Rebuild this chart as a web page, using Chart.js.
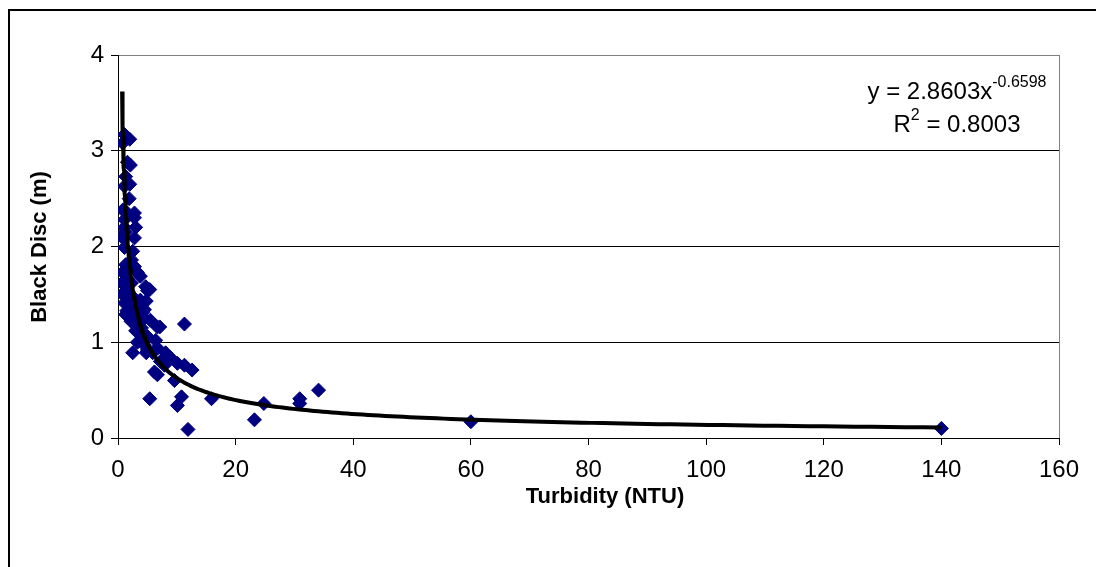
<!DOCTYPE html>
<html>
<head>
<meta charset="utf-8">
<script src="https://cdn.jsdelivr.net/npm/chart.js@4.4.1/dist/chart.umd.min.js"></script>
<style>
  html, body { margin: 0; padding: 0; background: #fff; }
  #wrap { width: 1096px; height: 567px; }
</style>
</head>
<body>
<div id="wrap"><canvas id="c" width="1096" height="567"></canvas></div>
<script>
// Turbidity (NTU) readings
const turbidity = [
  1.1, 0.8, 2.0, 1.6, 2.1, 1.3, 1.1, 2.0, 0.8, 2.8, 1.6,
  1.1, 2.8, 1.1, 3.0, 0.8, 2.8, 1.1, 2.5, 1.3, 2.8, 0.8, 1.6, 3.3, 3.8,
  0.7, 1.3, 4.7, 5.4, 0.8, 2.0, 3.8, 1.1, 2.5, 4.5, 1.3, 3.3, 5.5,
  5.0, 4.8, 3.9, 4.2,
  2.1, 3.8, 2.5, 4.5, 3.3, 6.7, 3.8, 5.0, 6.4, 3.3, 4.5, 6.7, 5.0, 5.9,
  2.5, 8.1, 8.9, 10.1, 11.3, 12.6, 7.2, 7.9, 6.2, 6.7, 9.6, 11.3, 7.1, 4.8,
  1.6, 2.3, 1.0, 1.8, 2.9, 1.5, 2.2, 3.0, 4.0, 1.9, 1.2, 2.3,
  5.4, 10.1, 10.8, 11.9, 15.9, 23.2, 24.8, 30.9, 30.9, 34.1, 60, 140
];
// Black disc visibility (m) for each reading
const blackDisc = [
  3.17, 3.08, 3.12, 2.88, 2.85, 2.73, 2.63, 2.65, 2.38, 2.35, 2.35,
  2.28, 2.30, 2.20, 2.20, 2.09, 2.09, 1.99, 1.95, 1.81, 1.79, 1.73, 1.74, 1.73, 1.69,
  1.62, 1.58, 1.58, 1.55, 1.50, 1.50, 1.44, 1.41, 1.37, 1.34, 1.29, 1.29, 1.23,
  1.54, 1.43, 1.37, 1.31,
  1.37, 1.39, 1.27, 1.25, 1.20, 1.16, 1.08, 1.06, 1.02, 1.00, 0.97, 0.94, 0.92, 0.89,
  0.89, 0.89, 0.84, 0.78, 0.76, 0.71, 0.80, 0.76, 0.69, 0.66, 0.60, 1.19, 1.16, 0.89,
  1.66, 1.62, 1.52, 1.43, 1.45, 1.33, 1.22, 1.12, 1.15, 2.50, 2.15, 1.86,
  0.41, 0.34, 0.43, 0.09, 0.41, 0.19, 0.36, 0.41, 0.36, 0.50, 0.17, 0.10
];

// Power trendline y = a * x^b, as printed in the label
const trendA = 2.8603;
const trendB = -0.6598;
const trendR2 = 0.8003;
const trendFrom = 0.7;
const trendTo = 140;

// Axis tick labels and titles
const xTicks = [0, 20, 40, 60, 80, 100, 120, 140, 160];
const yTicks = [0, 1, 2, 3, 4];
const xTitle = 'Turbidity (NTU)';
const yTitle = 'Black Disc (m)';

const points = turbidity.map((x, i) => ({ x: x, y: blackDisc[i] }));

const trendPts = [];
const nTrend = 240;
for (let i = 0; i <= nTrend; i++) {
  const x = trendFrom * Math.pow(trendTo / trendFrom, i / nTrend);
  trendPts.push({ x: x, y: trendA * Math.pow(x, trendB) });
}

const FONT = '"Liberation Sans", Arial, sans-serif';

// Outer frame of the chart object and the plot-area right edge
const framePlugin = {
  id: 'frame',
  beforeDraw(chart) {
    const ctx = chart.ctx;
    ctx.save();
    ctx.fillStyle = '#fff';
    ctx.fillRect(0, 0, chart.width, chart.height);
    ctx.fillStyle = '#000';
    ctx.fillRect(8, 9, 2, chart.height);
    ctx.fillRect(8, 9, chart.width, 2);
    ctx.restore();
  },
  afterDatasetsDraw(chart) {
    const { ctx, chartArea } = chart;
    ctx.save();
    ctx.strokeStyle = '#808080';
    ctx.lineWidth = 1;
    ctx.beginPath();
    const r = Math.round(chartArea.right) + 0.5;
    ctx.moveTo(r, Math.round(chartArea.top));
    ctx.lineTo(r, Math.round(chartArea.bottom));
    ctx.stroke();
    ctx.restore();
  }
};

// Axis titles
const titlesPlugin = {
  id: 'axisTitles',
  afterDraw(chart) {
    const ctx = chart.ctx;
    ctx.save();
    ctx.fillStyle = '#000';
    ctx.font = 'bold 22px ' + FONT;
    ctx.textAlign = 'center';
    ctx.textBaseline = 'middle';
    ctx.fillText(xTitle, 605, 497);
    ctx.translate(40, 247);
    ctx.rotate(-Math.PI / 2);
    ctx.fillText(yTitle, 0, 0);
    ctx.restore();
  }
};

// Trendline equation and R-squared label
const equationPlugin = {
  id: 'equation',
  afterDraw(chart) {
    const ctx = chart.ctx;
    const cx = 957;
    const big = '24px ' + FONT;
    const small = '16px ' + FONT;
    ctx.save();
    ctx.fillStyle = '#000';
    ctx.textBaseline = 'alphabetic';
    ctx.textAlign = 'left';

    const l1a = 'y = ' + trendA.toFixed(4) + 'x';
    const l1b = trendB.toFixed(4);
    ctx.font = big; const w1a = ctx.measureText(l1a).width;
    ctx.font = small; const w1b = ctx.measureText(l1b).width;
    let x = cx - (w1a + w1b) / 2;
    const base1 = 99;
    ctx.font = big; ctx.fillText(l1a, x, base1);
    ctx.font = small; ctx.fillText(l1b, x + w1a, base1 - 12);

    const l2a = 'R';
    const l2b = '2';
    const l2c = ' = ' + trendR2.toFixed(4);
    ctx.font = big; const w2a = ctx.measureText(l2a).width; const w2c = ctx.measureText(l2c).width;
    ctx.font = small; const w2b = ctx.measureText(l2b).width;
    x = cx - (w2a + w2b + w2c) / 2;
    const base2 = 132;
    ctx.font = big; ctx.fillText(l2a, x, base2);
    ctx.font = small; ctx.fillText(l2b, x + w2a, base2 - 12);
    ctx.font = big; ctx.fillText(l2c, x + w2a + w2b, base2);
    ctx.restore();
  }
};

new Chart(document.getElementById('c'), {
  type: 'scatter',
  data: {
    datasets: [
      {
        label: 'Black Disc',
        data: points,
        pointStyle: 'rectRot',
        pointRadius: 7,
        pointHoverRadius: 7,
        backgroundColor: '#000080',
        borderColor: '#000080',
        borderWidth: 1,
        order: 2
      },
      {
        label: 'Power trend',
        data: trendPts,
        showLine: true,
        pointRadius: 0,
        pointHoverRadius: 0,
        borderColor: '#000',
        borderWidth: 4,
        tension: 0,
        fill: false,
        order: 1
      }
    ]
  },
  options: {
    responsive: false,
    animation: false,
    devicePixelRatio: 1,
    layout: { padding: { top: 55, right: 37, left: 0, bottom: 0 } },
    plugins: {
      legend: { display: false },
      tooltip: { enabled: false }
    },
    scales: {
      x: {
        type: 'linear',
        min: xTicks[0],
        max: xTicks[xTicks.length - 1],
        afterBuildTicks(scale) { scale.ticks = xTicks.map(v => ({ value: v })); },
        afterFit(scale) { scale.height = 129; },
        ticks: {
          color: '#000',
          font: { family: FONT, size: 24 },
          padding: 11,
          maxRotation: 0
        },
        grid: {
          drawOnChartArea: false,
          drawTicks: true,
          tickLength: 7,
          tickColor: '#000',
          color: '#000'
        },
        border: { display: true, color: '#000', width: 1 },
        title: { display: false }
      },
      y: {
        type: 'linear',
        min: yTicks[0],
        max: yTicks[yTicks.length - 1],
        afterBuildTicks(scale) { scale.ticks = yTicks.map(v => ({ value: v })); },
        afterFit(scale) { scale.width = 118; },
        ticks: {
          color: '#000',
          font: { family: FONT, size: 24 },
          padding: 7
        },
        grid: {
          drawTicks: true,
          tickLength: 7,
          tickColor: '#000',
          color: ctx => (ctx.tick && ctx.tick.value === yTicks[yTicks.length - 1]) ? '#808080' : '#000',
          lineWidth: 1
        },
        border: { display: true, color: '#000', width: 1 },
        title: { display: false }
      }
    }
  },
  plugins: [framePlugin, titlesPlugin, equationPlugin]
});
</script>
</body>
</html>
